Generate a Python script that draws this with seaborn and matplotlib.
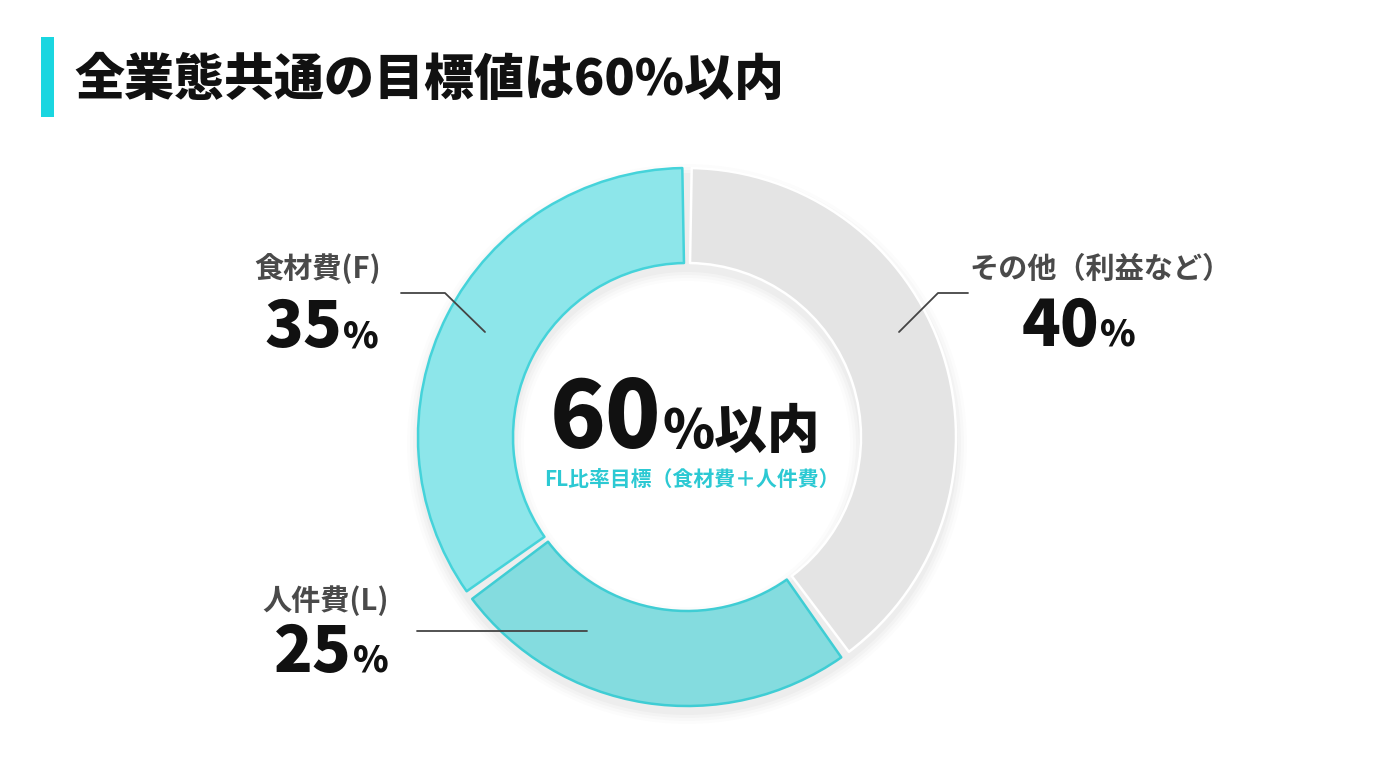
import matplotlib
matplotlib.use("Agg")
import matplotlib.pyplot as plt
from matplotlib.patches import Wedge, Rectangle
import seaborn as sns

# chart data
title = "全業態共通の目標値は60%以内"
segments = ["その他（利益など）", "人件費(L)", "食材費(F)"]
shares = [40, 25, 35]
fills = ["#e4e4e4", "#84dcdf", "#8de6ea"]
edges = ["#ffffff", "#3fcdd4", "#45d3da"]
center_value = "60"
center_unit = "%以内"
center_note = "FL比率目標（食材費＋人件費）"

sns.set_theme(style="white")
plt.rcParams['font.family'] = ['Noto Sans CJK JP', 'DejaVu Sans']

fig = plt.figure(figsize=(13.76, 7.68), dpi=100)
fig.patch.set_facecolor("white")
ax = fig.add_axes([0, 0, 1, 1])

cx, cy, R, W = 687, 437, 269, 95

# soft shadow under the ring
for i, a in enumerate([0.025, 0.02, 0.015, 0.01]):
    ax.add_patch(Wedge((cx, cy + 7), R + 2 + i * 3, 0, 360, width=W + 4 + i * 6,
                       facecolor="black", alpha=a, edgecolor="none", zorder=1))

# donut: with y inverted, start at -90 and go counterclockwise in data = clockwise on screen
wedges, _ = ax.pie(shares, startangle=-90, counterclock=True, center=(cx, cy), radius=R,
                   colors=fills, wedgeprops=dict(width=W), frame=True)
gap = 1.0
for w, ec in zip(wedges, edges):
    w.set_theta1(w.theta1 + gap)
    w.set_theta2(w.theta2 - gap)
    w.set_edgecolor(ec)
    w.set_linewidth(1.8)
    w.set_joinstyle("round")
    w.set_zorder(2)

ax.set_xlim(0, 1376)
ax.set_ylim(768, 0)
ax.set_aspect("auto")
ax.axis("off")

heavy = 900

# title with accent bar
ax.add_patch(Rectangle((41, 37), 13, 80, facecolor="#1ad6e0", edgecolor="none"))
ax.text(74, 80, title, fontsize=36, fontweight=heavy, color="#111111", va="center", ha="left")

# center text
ax.text(661, 448, center_value, fontsize=66, fontweight=heavy, color="#111111", ha="right", va="baseline")
ax.text(662, 448, center_unit, fontsize=38, fontweight=heavy, color="#111111", ha="left", va="baseline")
ax.text(cx + 5, 479, center_note, fontsize=15, fontweight="bold", color="#2cc9d3", ha="center", va="center")

# segment labels
lab_color = "#4a4a4a"
num_color = "#111111"
label_pos = {
    "食材費(F)": ((318, 269), (342, 347)),
    "その他（利益など）": ((1101, 269), (1099, 346)),
    "人件費(L)": ((326, 601), (352, 672)),
}
for name, val in zip(segments, shares):
    (lx, ly), (nx, ny) = label_pos[name]
    ax.text(lx, ly, name, fontsize=21, fontweight="bold", color=lab_color, ha="center", va="center")
    ax.text(nx, ny, str(val), fontsize=46, fontweight=heavy, color=num_color, ha="right", va="baseline")
    ax.text(nx + 1, ny, "%", fontsize=26, fontweight=heavy, color=num_color, ha="left", va="baseline")

# leader lines
lc = "#444444"
ax.plot([401, 445, 485], [293, 293, 332], color=lc, lw=1.3, zorder=3)
ax.plot([968, 938, 899], [293, 293, 332], color=lc, lw=1.3, zorder=3)
ax.plot([417, 587], [631, 631], color=lc, lw=1.3, zorder=3)

fig.savefig("out.png", dpi=100, facecolor="white")
